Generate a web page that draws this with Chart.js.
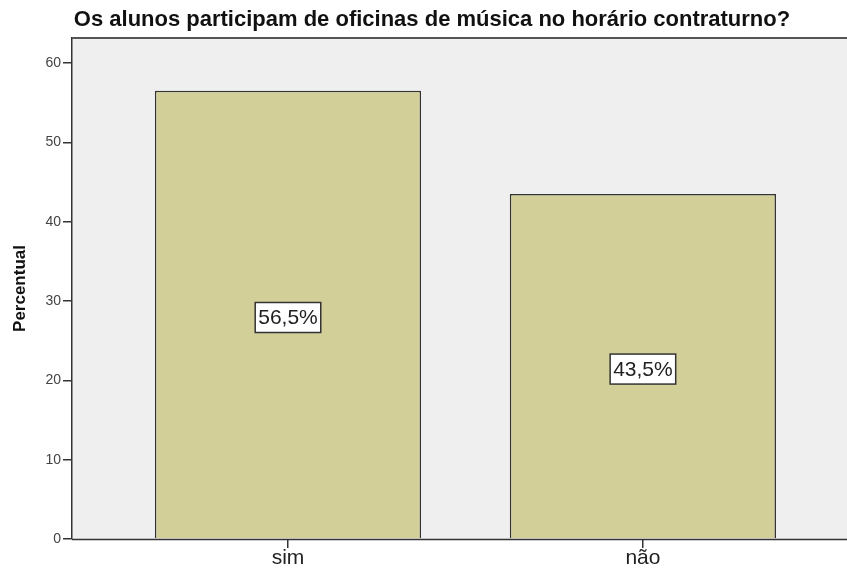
<!DOCTYPE html>
<html>
<head>
<meta charset="utf-8">
<script src="https://cdn.jsdelivr.net/npm/chart.js@4/dist/chart.umd.min.js"></script>
<style>
  html, body { margin: 0; padding: 0; background: #fff; overflow: hidden; }
  #wrap { width: 847px; height: 571px; }
</style>
</head>
<body>
<div id="wrap"><canvas id="myChart"></canvas></div>
<script>
const categories = ["sim", "não"];
const percents = [56.5, 43.5];
const yTicks = [0, 10, 20, 30, 40, 50, 60];

const ctx = document.getElementById("myChart");

// fundo cinza e linhas do quadro
const plotFrame = {
  id: "plotFrame",
  beforeDraw(chart) {
    const { ctx, chartArea } = chart;
    ctx.save();
    ctx.fillStyle = "#efefef";
    ctx.fillRect(chartArea.left, chartArea.top, chart.width - chartArea.left, chartArea.bottom - chartArea.top);
    ctx.restore();
  },
  afterDraw(chart) {
    const { ctx, chartArea } = chart;
    ctx.save();
    ctx.strokeStyle = "#555";
    ctx.lineWidth = 2;
    ctx.beginPath();
    ctx.moveTo(chartArea.left, chartArea.top);
    ctx.lineTo(chart.width, chartArea.top);
    ctx.stroke();
    ctx.strokeStyle = "#333";
    ctx.lineWidth = 1.5;
    ctx.beginPath();
    ctx.moveTo(chartArea.left, chartArea.bottom + 0.5);
    ctx.lineTo(chart.width, chartArea.bottom + 0.5);
    ctx.stroke();
    ctx.restore();
  },
};

// rótulos "56,5%" no meio das barras
const barLabels = {
  id: "barLabels",
  afterDatasetsDraw(chart) {
    const { ctx } = chart;
    const meta = chart.getDatasetMeta(0);
    ctx.save();
    ctx.font = "21px 'Liberation Sans', Arial, sans-serif";
    ctx.textAlign = "center";
    ctx.textBaseline = "middle";
    meta.data.forEach((bar, i) => {
      const txt = percents[i].toFixed(1).replace(".", ",") + "%";
      const w = ctx.measureText(txt).width + 6;
      const h = 30;
      const cx = bar.x;
      const cy = (bar.y + bar.base) / 2 + 3;
      ctx.fillStyle = "#fff";
      ctx.fillRect(cx - w / 2, cy - h / 2, w, h);
      ctx.strokeStyle = "#333";
      ctx.lineWidth = 1.5;
      ctx.strokeRect(cx - w / 2, cy - h / 2, w, h);
      ctx.fillStyle = "#222";
      ctx.fillText(txt, cx, cy + 1);
    });
    ctx.restore();
  },
};

const myChart = new Chart(ctx, {
  type: "bar",
  data: {
    datasets: [
      {
        label: "Percentual",
        data: categories.map((c, i) => ({ x: i, y: percents[i] })),
        backgroundColor: "#d3cf98",
        borderColor: "#333",
        borderWidth: 1.5,
        barPercentage: 0.75,
        categoryPercentage: 1,
      },
    ],
  },
  options: {
    responsive: true,
    maintainAspectRatio: false,
    animation: false,
    layout: { padding: { left: 17, right: 0, top: 0, bottom: 0 } },
    plugins: {
      legend: { display: false },
      tooltip: { enabled: false },
      title: {
        display: true,
        text: "Os alunos participam de oficinas de música no horário contraturno?",
        color: "#111",
        font: { family: "'Liberation Sans', Arial, sans-serif", size: 22, weight: "bold" },
        padding: { top: 7, bottom: 4.6 },
      },
    },
    scales: {
      x: {
        type: "linear",
        offset: false,
        min: -0.6085,
        max: 1.575,
        afterBuildTicks: (s) => { s.ticks = categories.map((_, i) => ({ value: i })); },
        afterFit: (s) => { s.height = 32; },
        ticks: {
          callback: (v) => categories[v] ?? "",
          color: "#222",
          font: { family: "'Liberation Sans', Arial, sans-serif", size: 21 },
          padding: -2,
          maxRotation: 0,
        },
        grid: { offset: false, drawOnChartArea: false, drawTicks: true, tickLength: 9, color: "#333", lineWidth: 1.5 },
        border: { display: false },
      },
      y: {
        min: 0,
        max: 63.15,
        afterBuildTicks: (s) => { s.ticks = yTicks.map((v) => ({ value: v })); },
        afterFit: (s) => { s.width = 55; },
        ticks: {
          color: "#444",
          font: { family: "'Liberation Sans', Arial, sans-serif", size: 14 },
          padding: 2,
        },
        grid: { drawOnChartArea: false, drawTicks: true, tickLength: 9, color: "#333", lineWidth: 1.5 },
        border: { display: true, color: "#333", width: 1.5 },
        title: {
          display: true,
          text: "Percentual",
          color: "#111",
          font: { family: "'Liberation Sans', Arial, sans-serif", size: 17, weight: "bold" },
          padding: { top: -7, bottom: 0 },
        },
      },
    },
  },
  plugins: [plotFrame, barLabels],
});
</script>
</body>
</html>
